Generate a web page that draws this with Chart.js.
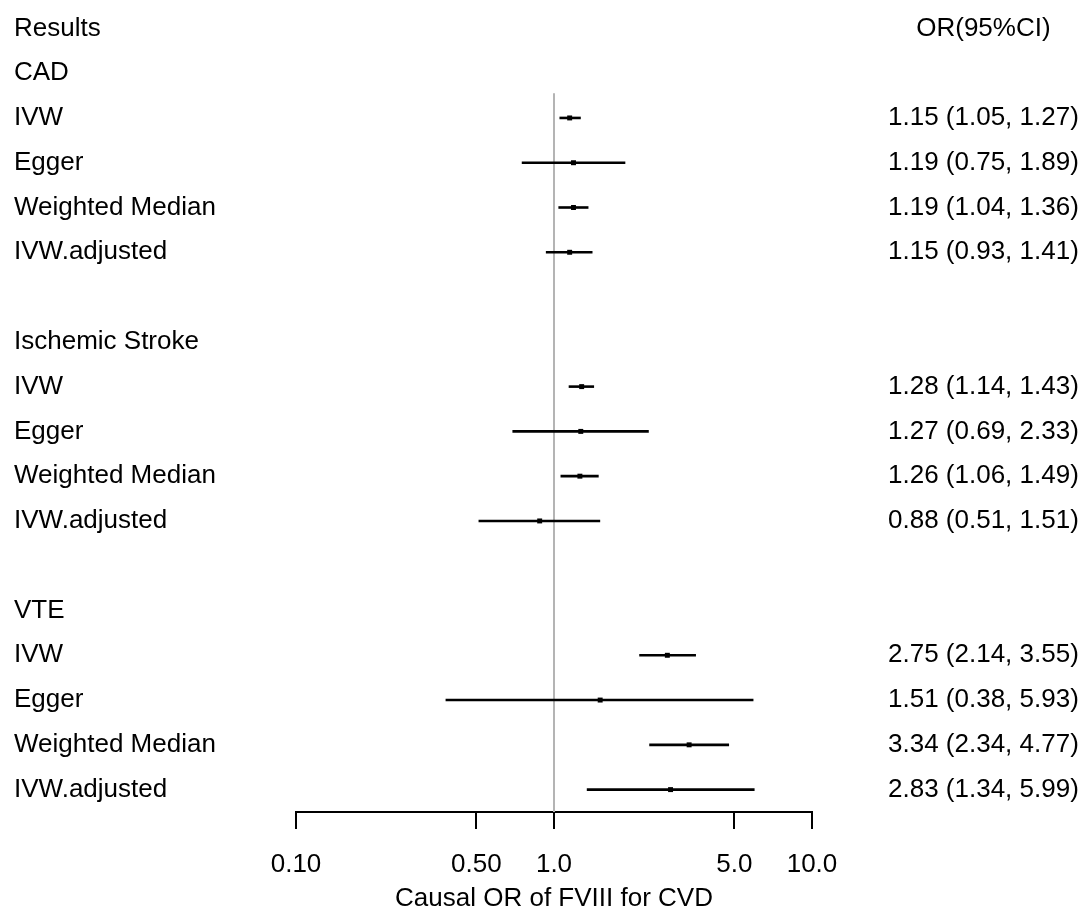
<!DOCTYPE html>
<html>
<head>
<meta charset="utf-8">
<script src="https://cdn.jsdelivr.net/npm/chart.js@4/dist/chart.umd.min.js"></script>
<style>
  html, body { margin: 0; padding: 0; background: #ffffff; }
  #wrap { width: 1092px; height: 912px; }
</style>
</head>
<body>
<div id="wrap"><canvas id="c" width="1092" height="912"></canvas></div>
<script>
// ---- data ----
const groups = ['CAD', 'Ischemic Stroke', 'VTE'];
const methods = ['IVW', 'Egger', 'Weighted Median', 'IVW.adjusted'];
const estimate = [1.15, 1.19, 1.19, 1.15, 1.28, 1.27, 1.26, 0.88, 2.75, 1.51, 3.34, 2.83];
const lower    = [1.05, 0.75, 1.04, 0.93, 1.14, 0.69, 1.06, 0.51, 2.14, 0.38, 2.34, 1.34];
const upper    = [1.27, 1.89, 1.36, 1.41, 1.43, 2.33, 1.49, 1.51, 3.55, 5.93, 4.77, 5.99];
const xTickValues = [0.1, 0.5, 1, 5, 10];
const xTickLabels = ['0.10', '0.50', '1.0', '5.0', '10.0'];
const headerLeft = 'Results';
const headerRight = 'OR(95%CI)';
const xTitle = 'Causal OR of FVIII for CVD';

// ---- build rows ----
const leftLabels = [headerLeft];
const rightLabels = [headerRight];
const rowOf = [];
groups.forEach((g, gi) => {
  if (gi > 0) { leftLabels.push(''); rightLabels.push(''); }
  leftLabels.push(g); rightLabels.push('');
  methods.forEach((m, mi) => {
    const k = gi * methods.length + mi;
    rowOf.push(leftLabels.length);
    leftLabels.push(m);
    rightLabels.push(estimate[k].toFixed(2) + ' (' + lower[k].toFixed(2) + ', ' + upper[k].toFixed(2) + ')');
  });
});
const nRows = leftLabels.length;

const FONT = { family: "'Liberation Sans', Arial, sans-serif", size: 26 };
const ROWFONT = { family: "'Liberation Sans', Arial, sans-serif", size: 26, lineHeight: 0.4 };

const datasets = [];
// reference line at OR = 1
datasets.push({
  type: 'line',
  data: [{ x: 1, y: 1.45 }, { x: 1, y: nRows - 0.5 }],
  borderColor: '#b4b4b4', borderWidth: 2, pointRadius: 0, yAxisID: 'y', order: 3
});
// CI segments
estimate.forEach((e, k) => {
  datasets.push({
    type: 'line',
    data: [{ x: lower[k], y: rowOf[k] }, { x: upper[k], y: rowOf[k] }],
    borderColor: '#000', borderWidth: 2.6, pointRadius: 0, yAxisID: 'y', order: 2
  });
});
// point estimates
datasets.push({
  type: 'scatter',
  data: estimate.map((e, k) => ({ x: e, y: rowOf[k] })),
  pointStyle: 'rect', pointRadius: 3.5, borderWidth: 0,
  backgroundColor: '#000', yAxisID: 'y', order: 1
});

const rowTicks = (scale) => { scale.ticks = leftLabels.map((_, i) => ({ value: i })); };

new Chart(document.getElementById('c'), {
  type: 'line',
  data: { datasets },
  options: {
    responsive: false,
    animation: false,
    devicePixelRatio: 1,
    layout: { padding: { top: 6, left: 14, right: 0, bottom: 0 } },
    plugins: { legend: { display: false }, tooltip: { enabled: false } },
    scales: {
      x: {
        type: 'logarithmic',
        position: 'bottom',
        min: 0.1, max: 10,
        afterBuildTicks: (s) => { s.ticks = xTickValues.map(v => ({ value: v })); },
        afterFit: (s) => { s.height = 100; },
        ticks: {
          autoSkip: false, maxRotation: 0, padding: 20, color: '#000', font: FONT,
          callback: (v, i) => xTickLabels[i]
        },
        grid: { drawOnChartArea: false, drawTicks: true, tickLength: 17, color: '#000', lineWidth: 2 },
        border: { display: true, color: '#000', width: 2 },
        title: { display: true, text: xTitle, color: '#000', font: FONT, padding: { top: 0, bottom: -2 } }
      },
      y: {
        type: 'linear', position: 'left', reverse: true,
        min: -0.5, max: nRows - 0.5,
        afterBuildTicks: rowTicks,
        afterFit: (s) => { s.width = 282; },
        ticks: {
          autoSkip: false, crossAlign: 'far', padding: 0, color: '#000', font: ROWFONT,
          callback: (v) => leftLabels[v] ?? ''
        },
        grid: { display: false, drawTicks: false },
        border: { display: false }
      },
      y2: {
        type: 'linear', position: 'right', reverse: true,
        min: -0.5, max: nRows - 0.5,
        afterBuildTicks: rowTicks,
        afterFit: (s) => { s.width = 280; },
        ticks: {
          autoSkip: false, crossAlign: 'center', padding: 0, color: '#000', font: ROWFONT,
          callback: (v) => rightLabels[v] ?? ''
        },
        grid: { display: false, drawTicks: true, tickLength: 76 },
        border: { display: false }
      }
    }
  }
});
</script>
</body>
</html>
